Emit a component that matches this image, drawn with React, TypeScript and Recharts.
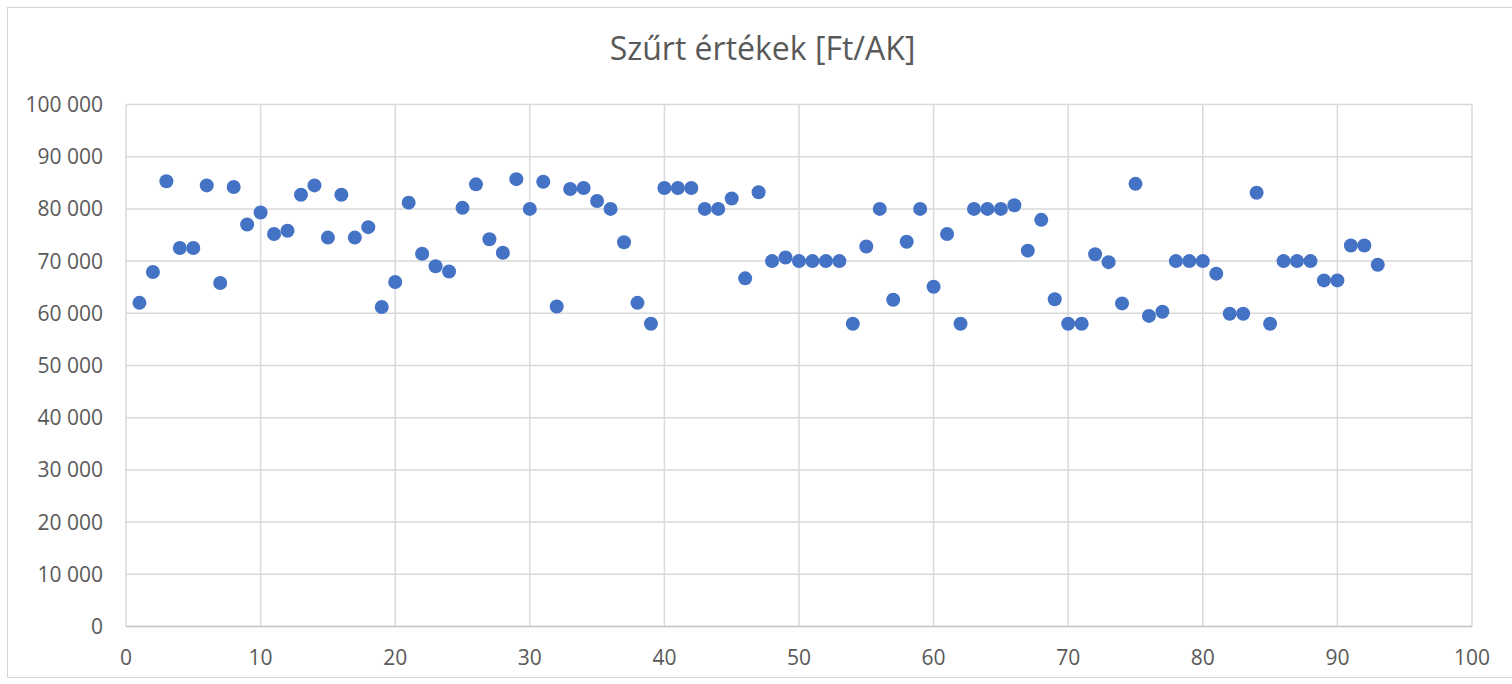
import { ScatterChart, Scatter, XAxis, YAxis, CartesianGrid } from "recharts";

// x is just the running index 1..93
const values = [
  62000, 67900, 85300, 72500, 72500, 84500, 65800, 84200, 77000, 79300,
  75200, 75800, 82700, 84500, 74500, 82700, 74500, 76500, 61200, 66000,
  81200, 71400, 69000, 68000, 80200, 84700, 74200, 71600, 85700, 80000,
  85200, 61300, 83800, 84000, 81500, 80000, 73600, 62000, 58000, 84000,
  84000, 84000, 80000, 80000, 82000, 66700, 83200, 70000, 70700, 70000,
  70000, 70000, 70000, 58000, 72800, 80000, 62600, 73700, 80000, 65100,
  75200, 58000, 80000, 80000, 80000, 80700, 72000, 77900, 62700, 58000,
  58000, 71300, 69800, 61900, 84800, 59500, 60300, 70000, 70000, 70000,
  67600, 59900, 59900, 83100, 58000, 70000, 70000, 70000, 66300, 66300,
  73000, 73000, 69300,
];

const xTicks = [0, 10, 20, 30, 40, 50, 60, 70, 80, 90, 100];
const yTicks = [0, 10000, 20000, 30000, 40000, 50000, 60000, 70000, 80000, 90000, 100000];

const title = "Szűrt értékek [Ft/AK]";

const data = values.map((v, i) => ({ x: i + 1, y: v }));

const fmtY = (v: number) => v.toLocaleString("en-US").replace(/,/g, " ");

const tickStyle = { fill: "#595959", fontSize: 21, fontFamily: "Open Sans" };

export default function App() {
  return (
    <div style={{ position: "absolute", left: 0, top: 0, width: 1512, height: 684, overflow: "hidden", background: "#fff" }}>
      <div
        style={{
          position: "absolute", left: 7, top: 7, width: 1540, height: 671,
          border: "1.5px solid #d4d4d4", boxSizing: "border-box",
        }}
      />
      <div
        style={{
          position: "absolute", left: 0, width: 1525, top: 26, textAlign: "center",
          fontFamily: "Open Sans", fontSize: 32, color: "#595959",
        }}
      >
        {title}
      </div>
      <ScatterChart width={1512} height={684} margin={{ top: 104.5, right: 40, bottom: 17.5, left: 0 }}>
        <CartesianGrid stroke="#d9d9d9" strokeWidth={1.5} />
        <XAxis
          type="number" dataKey="x" domain={[0, 100]} ticks={xTicks} height={40}
          axisLine={{ stroke: "#c8c8c8", strokeWidth: 1.5 }} tickLine={false} tickSize={0} tickMargin={23.5}
          tick={tickStyle} interval={0}
        />
        <YAxis
          type="number" dataKey="y" domain={[0, 100000]} ticks={yTicks} width={126}
          axisLine={false} tickLine={false} tickSize={0} tickMargin={23}
          tick={tickStyle} tickFormatter={fmtY} interval={0}
        />
        <Scatter
          data={data} isAnimationActive={false}
          shape={(p: any) => <circle cx={p.cx} cy={p.cy} r={7} fill="#4472C4" />}
        />
      </ScatterChart>
    </div>
  );
}
